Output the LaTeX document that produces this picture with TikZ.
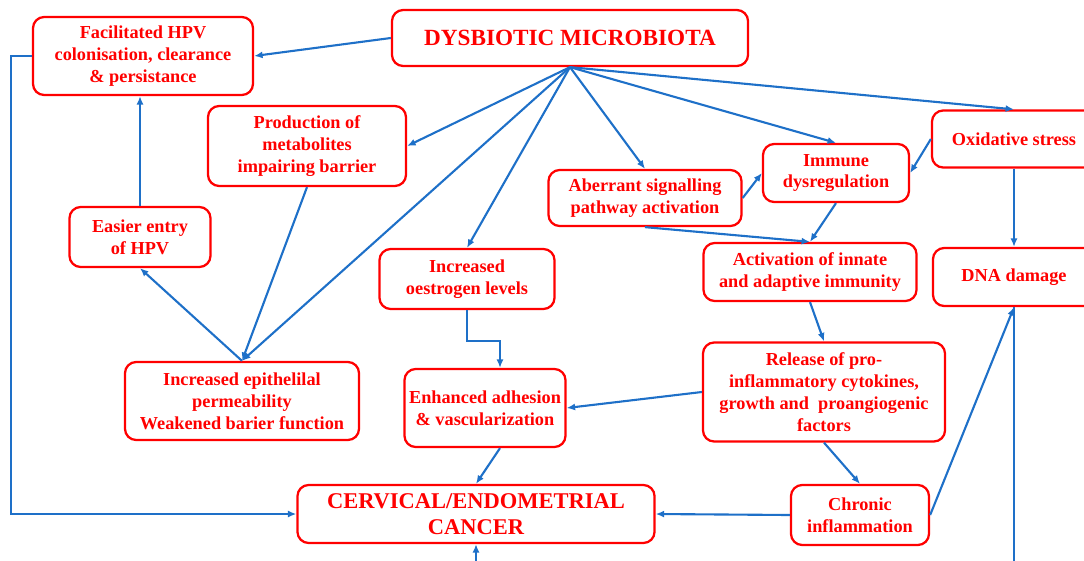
\documentclass[tikz,border=0pt]{standalone}
\usepackage{fontspec}
\setmainfont{Liberation Serif}
\usetikzlibrary{arrows.meta}
\definecolor{boxred}{RGB}{255,0,0}
\definecolor{linkblue}{RGB}{30,112,200}

\begin{document}
\begin{tikzpicture}[x=0.025cm, y=-0.025cm, >={Latex[length=6pt,width=5pt]},
  box/.style={draw=boxred, text=boxred, line width=1.6pt, rounded corners=0.28cm,
    align=center, inner sep=2pt, font=\bfseries\fontsize{13}{15.6}\selectfont},
  link/.style={->, linkblue, line width=1.5pt}]

\useasboundingbox (0,0) rectangle (1084,560);
\clip (0,0) rectangle (1084,560);

% Top row
\node[box, minimum width=8.9cm, minimum height=1.4cm,
  font=\bfseries\fontsize{16.5}{20}\selectfont] (dys) at (570,38) {DYSBIOTIC MICROBIOTA};
\node[box, minimum width=5.5cm, minimum height=1.95cm] (fac) at (143,56)
  {Facilitated HPV\\colonisation, clearance\\\& persistance};

% Left branch (barrier)
\node[box, minimum width=4.95cm, minimum height=2cm] (prod) at (307,146)
  {Production of\\metabolites\\impairing barrier};
\node[box, minimum width=3.525cm, minimum height=1.5cm] (entry) at (140,237)
  {Easier entry\\of HPV};
\node[box, minimum width=5.85cm, minimum height=1.95cm] (perm) at (242,401)
  {Increased epithelilal\\permeability\\Weakened barier function};

% Middle branch (oestrogen)
\node[box, minimum width=4.375cm, minimum height=1.5cm] (oest) at (467,279)
  {Increased\\oestrogen levels};
\node[box, minimum width=4.025cm, minimum height=1.95cm] (adh) at (485,408)
  {Enhanced adhesion\\\& vascularization};
\node[box, minimum width=8.925cm, minimum height=1.45cm,
  font=\bfseries\fontsize{16}{18.5}\selectfont] (cancer) at (476,514)
  {CERVICAL/ENDOMETRIAL\\CANCER};

% Right branch (immunity)
\node[box, minimum width=4.825cm, minimum height=1.4cm] (aber) at (645,198)
  {Aberrant signalling\\pathway activation};
\node[box, minimum width=3.65cm, minimum height=1.45cm] (immune) at (836,173)
  {Immune\\dysregulation};
\node[box, minimum width=4.1cm, minimum height=1.425cm] (oxid) at (1014,139)
  {Oxidative stress};
\node[box, minimum width=5.325cm, minimum height=1.45cm] (activ) at (810,272)
  {Activation of innate\\and adaptive immunity};
\node[box, minimum width=4.05cm, minimum height=1.45cm] (dna) at (1014,277)
  {DNA damage};
\node[box, minimum width=6.05cm, minimum height=2.475cm] (release) at (824,392)
  {Release of pro-\\inflammatory cytokines,\\growth and \ proangiogenic\\factors};
\node[box, minimum width=3.45cm, minimum height=1.5cm] (chronic) at (860,515)
  {Chronic\\inflammation};

% Arrows out of the microbiota
\draw[link] (dys.west) -- (fac.east);
\foreach \target in {prod.east, perm.north, oest.north, aber.north, immune.north, oxid.north}
{
    \draw[link] (dys.south) -- (\target);
}

% Barrier path
\draw[link] (prod.south) -- (perm.north);
\draw[link] (perm.north) -- (entry.south);
\draw[link] (entry.north) -- (entry.north |- fac.south);
\draw[link] (fac.west) -- ++(-21,0) |- (cancer.west);

% Oestrogen path
\draw[link] (oest.south) -- ++(0,31) -| ([xshift=0.375cm]adh.north);
\draw[link] ([xshift=0.375cm]adh.south) -- (cancer.north);

% Immune path
\draw[link] (aber.east) -- (immune.west);
\draw[link] (oxid.west) -- (immune.east);
\draw[link] (immune.south) -- (activ.north);
\draw[link] (aber.south) -- (activ.north);
\draw[link] (activ.south) -- (release.north);
\draw[link] (release.west) -- (adh.east);
\draw[link] (release.south) -- (chronic.north);
\draw[link] (chronic.west) -- (cancer.east);

% DNA damage path
\draw[link] (oxid.south) -- (dna.north);
\draw[link] (chronic.east) -- (dna.south);
\draw[link, -] (dna.south) -- ++(0,300);
\coordinate (below) at (476,600);
\draw[link] (below) -- (cancer.south);
\end{tikzpicture}
\end{document}
